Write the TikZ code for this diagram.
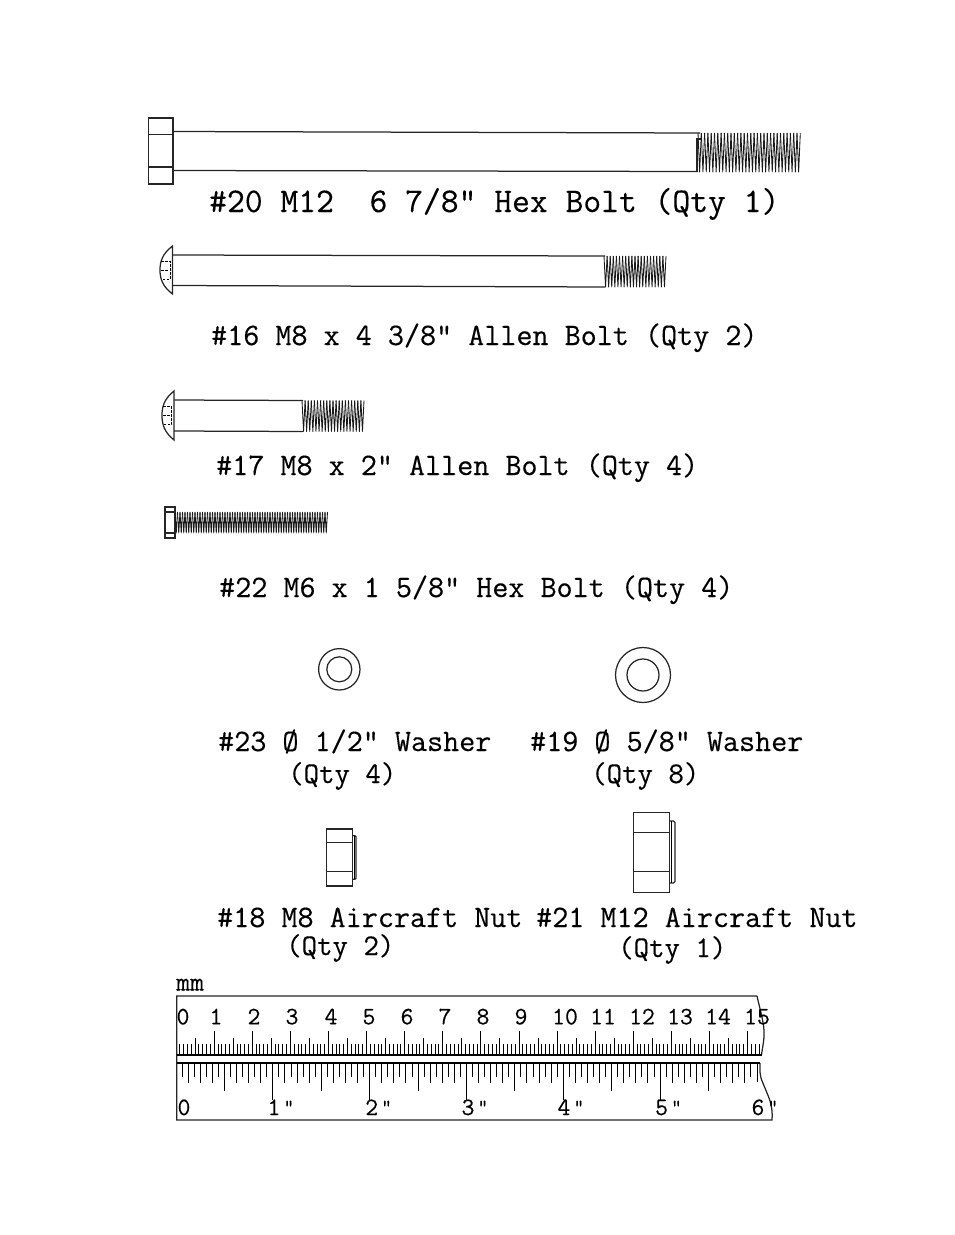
\documentclass[tikz,border=0pt]{standalone}
\usepackage{fontspec}
\newfontfamily\labelfont[FakeBold=0.35,AutoFakeBold=0.35]{Latin Modern Mono}
\usepackage{tikz}

\tikzset{
  outline/.style={line width=1.25pt,black!85},
  partlabel/.style={font=\labelfont\bfseries\fontsize{31.2}{34}\selectfont,anchor=base west,inner sep=0pt,black},
  qtylabel/.style={font=\labelfont\bfseries\fontsize{30}{34}\selectfont,anchor=base west,inner sep=0pt,black},
  rulerdigit/.style={font=\labelfont\fontsize{25}{26}\selectfont,anchor=base,inner sep=0pt},
  inchmark/.style={font=\labelfont\fontsize{20}{22}\selectfont,anchor=base west,inner sep=0pt}
}

% start, end, top, bottom, pitch
\newcommand{\threadrun}[5]{
  \pgfmathsetmacro{\nextx}{#1+#5}
  \foreach \x in {#1,\nextx,...,#2}{
    \draw[line width=0.85pt,black!90,line join=round] (\x,#3) -- (\x+0.5*#5,#4) -- (\x+#5,#3);
  }
}
% tip x, left x, top, bottom
\newcommand{\buttonhead}[4]{
  \draw[outline] (#1,#3) .. controls (#2+2,#3+8) and (#2,#3+16) .. (#2,#3+24)
    .. controls (#2,#4-16) and (#2+2,#4-8) .. (#1,#4) -- cycle;
  \pgfmathsetmacro{\midy}{(#3+#4)/2}
  \draw[line width=0.8pt,dash pattern=on 2.5pt off 1.5pt]
    (#2+1,\midy-9) -- (#1-2.5,\midy-9) -- (#1-2.5,\midy+9) -- (#2+1,\midy+9)
    (#2+1,\midy) -- (#1-4,\midy);
}

\begin{document}
\begin{tikzpicture}[x=1pt,y=-1pt]
\useasboundingbox (0,0) rectangle (954,1235);

% Bolt 20
\draw[outline] (148.5,118) rectangle (173,184);
\draw[outline] (148.5,134.5) -- (173,134.5) (148.5,167) -- (173,167);
\draw[outline] (173,131.5) -- (700,133) (173,170.5) -- (698,171.5);
\draw[outline] (697,171) -- (697,139) -- (701,139);
\threadrun{698}{798}{133}{172}{3.3}
\node[partlabel,font=\labelfont\bfseries\fontsize{34.6}{36}\selectfont] (label20) at (209,212) {\#20 M12\ \ 6 7/8" Hex Bolt (Qty 1)};

% Bolt 16
\buttonhead{172.5}{160}{246}{294}
\draw[outline] (172.5,255) -- (605,256) (172.5,285.5) -- (605,287);
\threadrun{604}{664}{256}{287}{3.1}
\node[partlabel] (label16) at (211,345) {\#16 M8 x 4 3/8" Allen Bolt (Qty 2)};

% Bolt 17
\buttonhead{174}{162}{391}{440}
\draw[outline] (174,400) -- (303,400.5) (174,431) -- (303,431.5);
\threadrun{302}{362}{400.5}{431.5}{3.1}
\node[partlabel] (label17) at (216,475) {\#17 M8 x 2" Allen Bolt (Qty 4)};

% Bolt 22
\draw[outline] (165,507) rectangle (175,538);
\draw[outline] (165,512) -- (175,512) (165,533) -- (175,533);
\threadrun{175}{325.5}{512}{533}{2.5}
\node[partlabel] (label22) at (219,597) {\#22 M6 x 1 5/8" Hex Bolt (Qty 4)};

% Washers
\draw[outline] (339.3,669.3) circle (20.7) (339.3,669.3) circle (12.5);
\draw[outline] (643,675) circle (27.5) (643,675) circle (16);
\node[partlabel] (label23) at (218,751) {\#23 Ø 1/2" Washer};
\node[qtylabel] (qty23) at (288,783) {(Qty 4)};
\node[partlabel] (label19) at (530,751) {\#19 Ø 5/8" Washer};
\node[qtylabel] (qty19) at (591,783) {(Qty 8)};

% Aircraft nuts
\draw[outline] (326.7,829) rectangle (352.3,886);
\draw[outline] (326.7,842.7) -- (352.3,842.7) (326.7,871.7) -- (352.3,871.7);
\draw[outline,rounded corners=1pt] (352.3,835.7) -- (356,835.7) -- (356,879.3) -- (352.3,879.3);
\draw[line width=0.8pt] (354.3,835.7) -- (354.3,879.3);
\draw[outline] (633.3,812.3) rectangle (669.3,892.3);
\draw[outline] (633.3,832.3) -- (669.3,832.3) (633.3,871.7) -- (669.3,871.7);
\draw[outline,rounded corners=1.5pt] (669.3,821) -- (675,821) -- (675,883) -- (669.3,883);
\draw[line width=0.8pt] (671.7,821) -- (671.7,883);
\node[partlabel] (label18) at (217,927) {\#18 M8 Aircraft Nut};
\node[qtylabel] (qty18) at (286,955) {(Qty 2)};
\node[partlabel] (label21) at (536,927) {\#21 M12 Aircraft Nut};
\node[qtylabel] (qty21) at (618,957) {(Qty 1)};

% Ruler outline
\draw[outline] (757,996) -- (176.7,996) -- (176.7,1120) -- (772,1120)
  .. controls (773,1108) and (770,1100) .. (767,1093)
  .. controls (764,1085) and (760,1078) .. (760,1072) -- (760,1063);
\draw[outline] (757,996) .. controls (760,1010) and (765,1025) .. (764,1037)
  .. controls (763.5,1044) and (762,1050) .. (761.5,1055);
\draw[line width=1.4pt] (176.7,1055) -- (761.5,1055) (176.7,1063) -- (760,1063);
\node[partlabel,font=\labelfont\bfseries\fontsize{27}{28}\selectfont] (unitmm) at (176,990.5) {mm};

% Millimetre scale
\foreach \m in {1,...,153}
  \draw[line width=0.8pt] (176+3.81*\m,1055) -- (176+3.81*\m,1044);
\foreach \m in {5,15,...,145}
  \draw[line width=0.8pt] (176+3.81*\m,1055) -- (176+3.81*\m,1038);
\foreach \m in {10,20,...,150}
  \draw[line width=0.8pt] (176+3.81*\m,1055) -- (176+3.81*\m,1030.7);
\foreach \t/\px in {0/183,1/216,2/254,3/292,4/331,5/369,6/407,7/445,8/483,9/521,10/565,11/603,12/642,13/680,14/718,15/757}
  \node[rulerdigit] (mm\t) at (\px,1024.3) {\t};

% Inch scale
\foreach \s in {1,...,95}
  \draw[line width=0.85pt] (176+6.05*\s,1063) -- (176+6.05*\s,1076.7);
\foreach \s in {2,4,...,94}
  \draw[line width=0.95pt] (176+6.05*\s,1063) -- (176+6.05*\s,1083);
\foreach \s in {8,24,...,88}
  \draw[line width=0.95pt] (176+6.05*\s,1063) -- (176+6.05*\s,1091);
\foreach \s in {16,32,...,80}
  \draw[line width=0.95pt] (176+6.05*\s,1063) -- (176+6.05*\s,1100);
\draw[line width=0.95pt] (757,1063) -- (757,1082);
\node[rulerdigit] (in0) at (184,1115) {0};
\foreach \t/\px in {1/274,2/371.7,3/468,4/564,5/661.6,6/758}{
  \node[rulerdigit] (in\t) at (\px,1115) {\t};
  \node[inchmark] (mark\t) at (\px+9.5,1113) {"};
}
\end{tikzpicture}
\end{document}
